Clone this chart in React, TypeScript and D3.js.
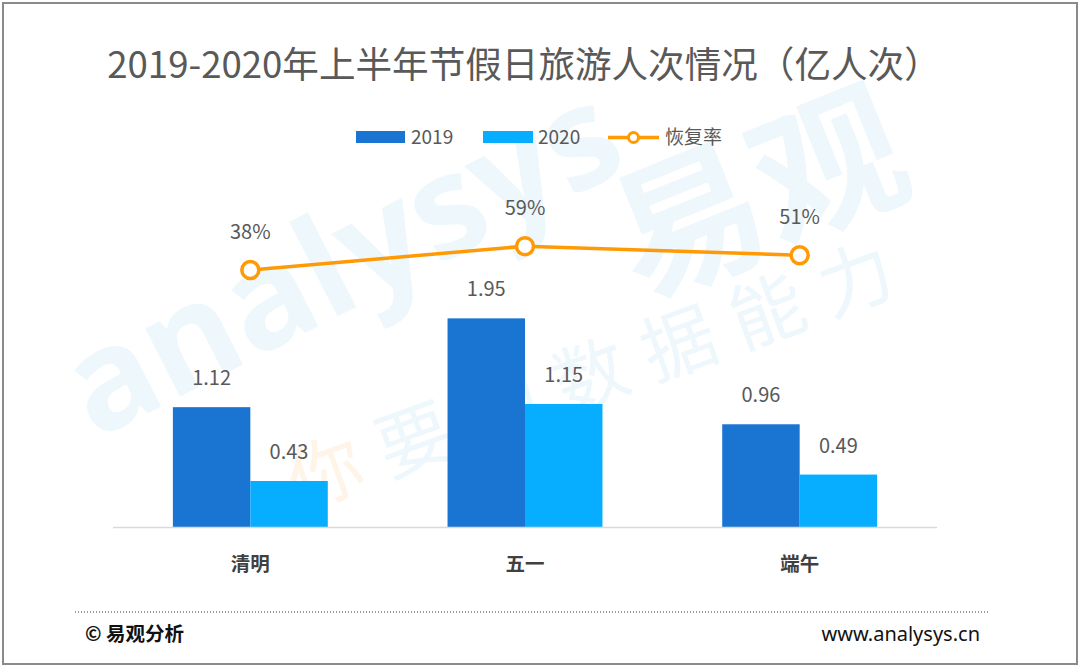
import React from 'react'
import * as d3 from 'd3'

// data
const categories = ['清明', '五一', '端午']
const seriesNames = ['2019', '2020']
const values2019 = [1.12, 1.95, 0.96]
const values2020 = [0.43, 1.15, 0.49]
const recoveryRate = [0.38, 0.59, 0.51]

const W = 1080
const H = 669
const FONT = '"Noto Sans CJK SC", "Noto Sans", sans-serif'
const C2019 = '#1A75D2'
const C2020 = '#07AEFF'
const ORANGE = '#FF9A05'
const TEXT = '#595959'

export default function App() {
    const x = d3.scaleBand<string>().domain(categories).range([113, 937]).padding(0)
    const bw = x.bandwidth()
    const sub = d3.scaleBand<string>().domain(seriesNames).range([bw * 0.218, bw * 0.782]).padding(0)
    const y = d3.scaleLinear().domain([0, 2.5]).range([527, 259.5])
    const yRate = d3.scaleLinear().domain([0, 1]).range([313.4, 199.4])

    const bars = categories.flatMap((c, i) => [
        { c, s: '2019', v: values2019[i], color: C2019 },
        { c, s: '2020', v: values2020[i], color: C2020 },
    ])

    const ratePts = categories.map((c, i) => ({ c, v: recoveryRate[i] }))
    const line = d3.line<{ c: string; v: number }>()
        .x(d => (x(d.c) ?? 0) + bw / 2)
        .y(d => yRate(d.v))

    return (
        <svg width={W} height={H} viewBox={`0 0 ${W} ${H}`}
            style={{ position: 'absolute', left: 0, top: 0, fontFamily: FONT }}>
            <rect x={3} y={3} width={1074} height={661} fill="#fff" stroke="#8a8a8a" strokeWidth={2} />

            {/* watermark */}
            <g fill="#EDF7FC" style={{ pointerEvents: 'none' }}>
                <text x={0} y={0} fontSize={140} fontWeight="bold" fontFamily='"Open Sans", sans-serif'
                    transform="translate(95,440) rotate(-27)">analysys</text>
                <text x={0} y={0} fontSize={150} fontWeight="bold"
                    transform="translate(640,300) rotate(-22)">易观</text>
                <text x={0} y={0} fontSize={74} letterSpacing={20}
                    transform="translate(300,510) rotate(-20)">
                    <tspan fill="#FEF4E8">你</tspan>要的数据能力
                </text>
            </g>

            {/* title */}
            <text x={524} y={78} textAnchor="middle" fontSize={36.6} fill={TEXT}>
                2019-2020年上半年节假日旅游人次情况（亿人次）
            </text>

            {/* legend */}
            <g fontSize={19} fill={TEXT}>
                <rect x={356} y={131} width={49} height={12} fill={C2019} />
                <text x={411} y={144}>2019</text>
                <rect x={483} y={131} width={50} height={12} fill={C2020} />
                <text x={538} y={144}>2020</text>
                <line x1={608} x2={659} y1={137.5} y2={137.5} stroke={ORANGE} strokeWidth={3.5} />
                <circle cx={633.5} cy={137.5} r={5} fill="#fff" stroke={ORANGE} strokeWidth={3} />
                <text x={665} y={144}>恢复率</text>
            </g>

            {/* bars */}
            {bars.map(b => {
                const bx = (x(b.c) ?? 0) + (sub(b.s) ?? 0)
                return (
                    <g key={b.c + b.s}>
                        <rect x={bx} y={y(b.v)} width={sub.bandwidth()} height={y(0) - y(b.v)} fill={b.color} />
                        <text x={bx + sub.bandwidth() / 2} y={y(b.v) - 22} textAnchor="middle"
                            fontSize={20} fill={TEXT}>{b.v.toFixed(2)}</text>
                    </g>
                )
            })}

            {/* x axis */}
            <line x1={113} x2={937} y1={y(0) + 0.5} y2={y(0) + 0.5} stroke="#D9D9D9" strokeWidth={1.5} />
            {categories.map(c => (
                <text key={c} x={(x(c) ?? 0) + bw / 2} y={571} textAnchor="middle" fontSize={19.5}
                    fontWeight={600} fill="#404040">{c}</text>
            ))}

            {/* recovery rate line */}
            <path d={line(ratePts) ?? ''} fill="none" stroke={ORANGE} strokeWidth={3.5} />
            {ratePts.map(p => (
                <g key={p.c}>
                    <circle cx={(x(p.c) ?? 0) + bw / 2} cy={yRate(p.v)} r={8.5} fill="#fff"
                        stroke={ORANGE} strokeWidth={3.5} />
                    <text x={(x(p.c) ?? 0) + bw / 2} y={yRate(p.v) - 31} textAnchor="middle"
                        fontSize={20} fill={TEXT}>{Math.round(p.v * 100)}%</text>
                </g>
            ))}

            {/* footer */}
            <line x1={75} x2={990} y1={612} y2={612} stroke="#9a9a9a" strokeWidth={2} strokeDasharray="1 2" />
            <text x={85} y={641} fontSize={19.5} fontWeight={600} fill="#111">© 易观分析</text>
            <text x={980} y={641} textAnchor="end" fontSize={20} fill="#111"
                fontFamily='"Liberation Sans Narrow", "Noto Sans", sans-serif'>www.analysys.cn</text>
        </svg>
    )
}
